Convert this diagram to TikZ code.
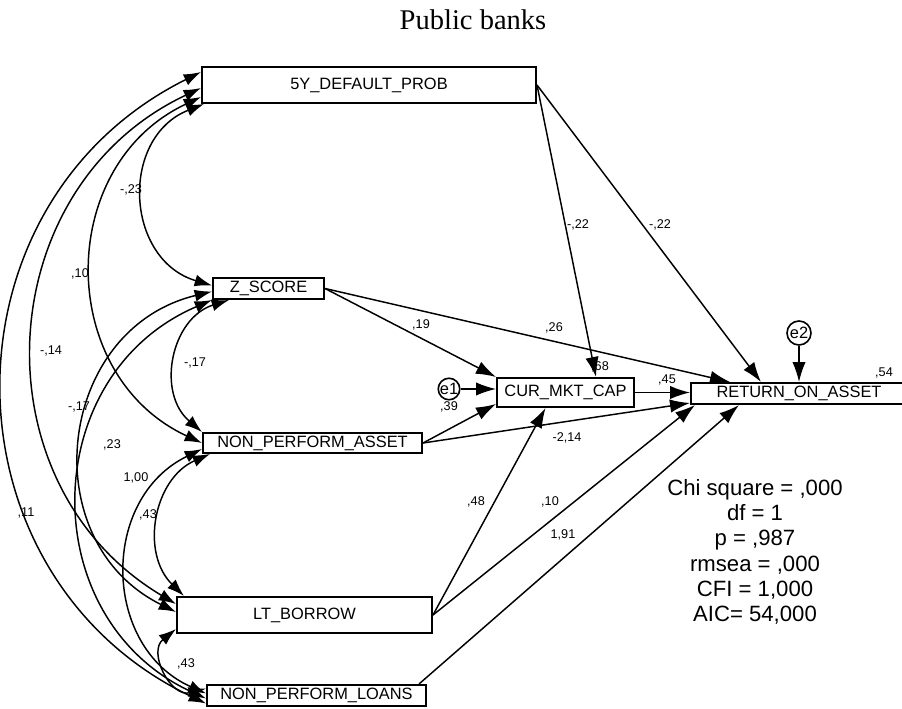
\documentclass[tikz,border=0pt]{standalone}
\usepackage{fontspec}
\setmainfont{Liberation Sans}
\newfontfamily\titlefont{Liberation Serif}
\usetikzlibrary{arrows.meta,calc}

\newcommand{\varfont}{\fontsize{12.3}{14}\selectfont}
\newcommand{\coeffont}{\fontsize{9.5}{10}\selectfont}
\newcommand{\fitfont}{\fontsize{16.6}{19}\selectfont}

\begin{document}
\begin{tikzpicture}[x=0.75pt,y=-0.75pt]

% --- Styles ---
\tikzset{
    varbox/.style={
        draw,
        line width=1.5pt,
        inner sep=0pt,
        font=\varfont
    },
    errnode/.style={
        circle,
        draw,
        line width=1.2pt,
        inner sep=0pt,
        font=\varfont
    },
    coef/.style={
        inner sep=0pt,
        font=\coeffont
    },
    regarrow/.style={
        -{Latex[length=15pt,width=10pt]},
        line width=1.1pt
    },
    covarrow/.style={
        {Latex[length=13pt,width=9pt]}-{Latex[length=13pt,width=9pt]},
        line width=1.1pt
    }
}

\useasboundingbox (0,0) rectangle (902,709);

% --- Title ---
\node[font=\titlefont\fontsize{21.4}{24}\selectfont, anchor=base] (title) at (473,30) {Public banks};

% --- Observed variables ---
\node[varbox, minimum width=250.5pt, minimum height=27pt] (dp) at (369,85) {5Y\_DEFAULT\_PROB};
\node[varbox, minimum width=83.25pt, minimum height=15.75pt] (zs) at (268.5,288.5) {Z\_SCORE};
\node[varbox, minimum width=164.25pt, minimum height=15pt] (npa) at (312.5,443) {NON\_PERFORM\_ASSET};
\node[varbox, minimum width=191.25pt, minimum height=27pt] (ltb) at (304.5,615) {LT\_BORROW};
\node[varbox, minimum width=164.25pt, minimum height=15.75pt] (npl) at (316.5,695.5) {NON\_PERFORM\_LOANS};
\node[varbox, minimum width=102.75pt, minimum height=21.75pt] (cmc) at (565.5,392.5) {CUR\_MKT\_CAP};
\node[varbox, minimum width=162pt, minimum height=15.75pt] (roa) at (799,393.5) {RETURN\_ON\_ASSET};

% --- Error terms ---
\node[errnode, minimum size=12pt] (e1) at (449,389) {e1};
\node[errnode, minimum size=18pt] (e2) at (799,333) {e2};

% --- Regression paths ---
\draw[regarrow] (dp.east) -- ($(cmc.north)+(30.5,0)$);
\draw[regarrow] (dp.east) -- ($(roa.north)+(-38,0)$);
\draw[regarrow] (zs.east) -- (cmc.north west);
\draw[regarrow] (zs.east) -- ($(roa.north west)+(40,0)$);
\draw[regarrow] (e1.east) -- (e1.east -| cmc.west);
\draw[regarrow] (npa.east) -- ($(cmc.south west)+(0,-4)$);
\draw[regarrow] (npa.east) -- ($(roa.south west)+(0,-2)$);
\draw[regarrow] (ltb.east) -- ($(cmc.south)+(-20,0)$);
\draw[regarrow] (ltb.east) -- ($(roa.south west)+(5,0)$);
\draw[regarrow] ($(npl.north east)+(-8,0)$) -- ($(roa.south west)+(49,0)$);
\draw[regarrow] (cmc.east) -- (cmc.east -| roa.west);
\draw[regarrow] (e2.south) -- (roa.north);

% --- Covariances ---
\draw[covarrow] ($(dp.west)+(0,-13)$) to[bend right=64, looseness=1.2] ($(npl.west)+(0,8)$);
\draw[covarrow] ($(dp.west)+(0,3)$) to[bend right=62, looseness=1.16] ($(ltb.west)+(0,-11)$);
\draw[covarrow] ($(dp.west)+(0,12)$) to[bend right=65, looseness=1.19] (npa.west);
\draw[covarrow] ($(dp.south west)+(3,0)$) to[bend right=71, looseness=1.28] ($(zs.west)+(0,-3)$);
\draw[covarrow] ($(zs.south west)+(17,0)$) to[bend right=61, looseness=1.15] (npa.north west);
\draw[covarrow] ($(zs.west)+(0,3)$) to[bend right=70, looseness=1.27] ($(ltb.west)+(0,-3)$);
\draw[covarrow] (zs.south west) to[bend right=66, looseness=1.22] ($(npl.west)+(0,3)$);
\draw[covarrow] ($(npa.west)+(0,6)$) to[bend right=65, looseness=1.19] ($(npl.west)+(0,-2)$);
\draw[covarrow] ($(npa.south west)+(8,0)$) to[bend right=56, looseness=1.09] ($(ltb.north west)+(8,0)$);
\draw[covarrow] ($(ltb.south west)+(0,-5)$) to[bend right=78, looseness=1.41] ($(npl.west)+(0,-7)$);

% --- Path coefficients ---
\foreach \x/\y/\t [count=\i] in {578/225/{-,22}, 660/225/{-,22}, 421/325/{,19}, 554/328/{,26},
    449/407/{,39}, 567/438/{-2,14}, 476/502/{,48}, 550/502/{,10}, 563/535/{1,91},
    667/380/{,45}, 600/367/{,68}, 884/373/{,54}}
    \node[coef] (p\i) at (\x,\y) {\t};

% --- Covariance coefficients ---
\foreach \x/\y/\t [count=\i] in {131/190/{-,23}, 80/274/{,10}, 51/351/{-,14}, 26/513/{,11},
    195/363/{-,17}, 79/407/{-,17}, 112/445/{,23}, 136/478/{1,00}, 148/515/{,43}, 186/664/{,43}}
    \node[coef] (c\i) at (\x,\y) {\t};

% --- Fit statistics ---
\node[font=\fitfont, align=center, anchor=north, inner sep=0pt] (fit) at (755,479)
    {Chi square = ,000\\df = 1\\p = ,987\\rmsea = ,000\\CFI = 1,000\\AIC= 54,000};

\end{tikzpicture}
\end{document}
